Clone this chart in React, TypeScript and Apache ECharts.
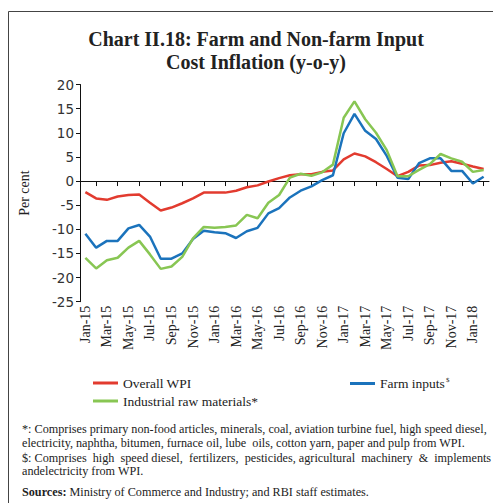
import React, { useEffect, useRef } from "react";
import * as echarts from "echarts";

const months: string[] = [
  "Jan-15","Feb-15","Mar-15","Apr-15","May-15","Jun-15","Jul-15","Aug-15","Sep-15","Oct-15","Nov-15","Dec-15",
  "Jan-16","Feb-16","Mar-16","Apr-16","May-16","Jun-16","Jul-16","Aug-16","Sep-16","Oct-16","Nov-16","Dec-16",
  "Jan-17","Feb-17","Mar-17","Apr-17","May-17","Jun-17","Jul-17","Aug-17","Sep-17","Oct-17","Nov-17","Dec-17",
  "Jan-18","Feb-18",
];

const overallWPI: number[] = [
  -2.3, -3.6, -3.9, -3.2, -2.9, -2.8, -4.5, -6.1, -5.5, -4.6, -3.6, -2.4,
  -2.4, -2.4, -2.0, -1.3, -0.9, -0.1, 0.6, 1.2, 1.4, 1.4, 1.9, 2.2,
  4.5, 5.7, 5.1, 3.9, 2.5, 1.0, 1.9, 3.2, 3.3, 3.8, 4.1, 3.6,
  3.0, 2.5,
];

const farmInputs: number[] = [
  -10.9, -13.8, -12.4, -12.4, -9.8, -9.1, -11.5, -16.1, -16.1, -15.0, -12.0, -10.3,
  -10.6, -10.8, -11.8, -10.4, -9.7, -6.7, -5.6, -3.4, -2.0, -1.1, 0.2, 1.2,
  9.9, 13.9, 10.4, 8.7, 5.2, 0.7, 0.4, 3.7, 4.7, 4.7, 2.1, 2.1,
  -0.5, 0.9,
];

const industrialRaw: number[] = [
  -15.9, -18.1, -16.4, -15.9, -13.8, -12.4, -15.2, -18.2, -17.7, -15.7, -11.9, -9.5,
  -9.7, -9.5, -9.2, -7.0, -7.7, -4.5, -2.9, 0.7, 1.5, 1.1, 1.8, 3.4,
  13.1, 16.5, 12.8, 10.0, 6.4, 1.0, 1.0, 2.3, 3.5, 5.6, 4.7, 4.0,
  1.9, 2.3,
];

const titleLines: string[] = ["Chart II.18: Farm and Non-farm Input", "Cost Inflation (y-o-y)"];
const footnotes: string[] = [
  "*: Comprises primary non-food articles, minerals, coal, aviation turbine fuel, high speed diesel,",
  "electricity, naphtha, bitumen, furnace oil, lube  oils, cotton yarn, paper and pulp from WPI.",
  "$: Comprises  high  speed diesel,  fertilizers,  pesticides, agricultural  machinery  &  implements",
  "andelectricity from WPI.",
];

const SERIF = "'Liberation Serif', 'DejaVu Serif', serif";
const SANS = "'DejaVu Sans', sans-serif";
const FN = 12.2;

export default function App() {
  const ref = useRef<HTMLDivElement>(null);
  useEffect(() => {
    if (!ref.current) return;
    const chart = echarts.init(ref.current, null, { renderer: "svg" });
    const option: any = {
      animation: false,
      backgroundColor: "#ffffff",
      grid: { left: 80, right: 4, top: 84.5, bottom: 201.3, containLabel: false },
      legend: [
        {
          data: ["Overall WPI"], left: 88, top: 371, icon: "rect", itemWidth: 25, itemHeight: 3,
          textStyle: { fontFamily: SERIF, fontSize: 13.5, color: "#222" }, selectedMode: false,
        },
        {
          data: ["Farm inputs"], left: 345, top: 371, icon: "rect", itemWidth: 25, itemHeight: 3,
          selectedMode: false,
          formatter: (n: string) => `{a|${n}}{s|$}`,
          textStyle: {
            fontFamily: SERIF, fontSize: 13.5, color: "#222",
            rich: { a: { fontFamily: SERIF, fontSize: 13.5, color: "#222" }, s: { fontFamily: SERIF, fontSize: 7, color: "#222", verticalAlign: "top", padding: [0, 0, 8, 1] } },
          },
        },
        {
          data: ["Industrial raw materials*"], left: 88, top: 389, icon: "rect", itemWidth: 25, itemHeight: 3,
          textStyle: { fontFamily: SERIF, fontSize: 13.5, color: "#222" }, selectedMode: false,
        },
      ],
      xAxis: [
        {
          type: "category", data: months, boundaryGap: true, position: "bottom",
          axisLine: { show: false, onZero: false }, axisTick: { show: false },
          axisLabel: {
            rotate: 90, interval: (i: number) => i % 2 === 0, margin: 4,
            fontFamily: SERIF, fontSize: 14, color: "#222",
          },
        },
        {
          type: "category", data: months, boundaryGap: true, position: "bottom",
          axisLine: { show: true, onZero: true, lineStyle: { color: "#111", width: 1 } },
          axisTick: { show: true, alignWithLabel: true, interval: (i: number) => i % 2 === 1, length: 5, lineStyle: { color: "#111" } },
          axisLabel: { show: false },
        },
      ],
      yAxis: {
        type: "value", min: -25, max: 20, interval: 5,
        name: "Per cent", nameLocation: "middle", nameRotate: 90, nameGap: 49,
        nameTextStyle: { fontFamily: SERIF, fontSize: 14, color: "#222" },
        axisLine: { show: true, lineStyle: { color: "#111" } },
        axisTick: { show: true, length: 4, lineStyle: { color: "#111" } },
        splitLine: { show: false },
        axisLabel: { fontFamily: SANS, fontSize: 13.5, color: "#333", margin: 6 },
      },
      series: [
        { name: "Overall WPI", type: "line", data: overallWPI, xAxisIndex: 0, symbol: "none", lineStyle: { color: "#e23b2f", width: 2.5 }, itemStyle: { color: "#e23b2f" } },
        { name: "Farm inputs", type: "line", data: farmInputs, xAxisIndex: 0, symbol: "none", lineStyle: { color: "#1b73bc", width: 2.5 }, itemStyle: { color: "#1b73bc" } },
        { name: "Industrial raw materials*", type: "line", data: industrialRaw, xAxisIndex: 0, symbol: "none", lineStyle: { color: "#88c653", width: 2.5 }, itemStyle: { color: "#88c653" } },
      ],
      graphic: [
        { type: "line", shape: { x1: 8.5, y1: 11.5, x2: 493, y2: 11.5 }, style: { stroke: "#444", lineWidth: 1 } },
        { type: "line", shape: { x1: 8.5, y1: 11.5, x2: 8.5, y2: 503 }, style: { stroke: "#444", lineWidth: 1 } },
        { type: "text", x: 256, y: 39, style: { text: titleLines[0], fontFamily: SERIF, fontSize: 20, fontWeight: "bold", fill: "#222", textAlign: "center", textVerticalAlign: "middle" } },
        { type: "text", x: 256, y: 62, style: { text: titleLines[1], fontFamily: SERIF, fontSize: 20, fontWeight: "bold", fill: "#222", textAlign: "center", textVerticalAlign: "middle" } },
        ...footnotes.map((t, i) => ({
          type: "text", x: 22, y: [429, 443, 457.5, 471][i],
          style: { text: t, fontFamily: SERIF, fontSize: FN, fill: "#222", textAlign: "left", textVerticalAlign: "middle" },
        })),
        {
          type: "text", x: 22, y: 492,
          style: {
            text: "{b|Sources:} {r|Ministry of Commerce and Industry; and RBI staff estimates.}",
            fontFamily: SERIF, fontSize: FN, fill: "#222", textVerticalAlign: "middle",
            rich: { b: { fontFamily: SERIF, fontSize: FN, fontWeight: "bold", fill: "#222" }, r: { fontFamily: SERIF, fontSize: FN, fill: "#222" } },
          },
        },
      ],
    };
    chart.setOption(option);
    return () => chart.dispose();
  }, []);
  return <div ref={ref} style={{ position: "absolute", left: 0, top: 0, width: 493, height: 503 }} />;
}
